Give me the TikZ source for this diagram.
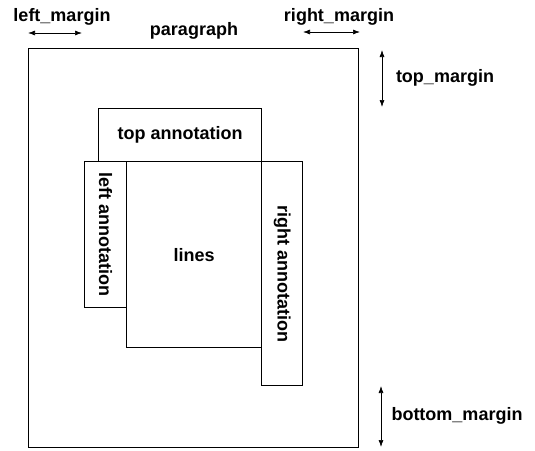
\documentclass[tikz,border=0pt]{standalone}
\usepackage{fontspec}
\setmainfont{Liberation Sans}
\usetikzlibrary{arrows.meta}
\begin{document}
\begin{tikzpicture}[x=1pt,y=-1pt,
  box/.style={draw, line width=1.3pt, inner sep=0pt, anchor=north west},
  lbl/.style={font=\bfseries\fontsize{18}{20}\selectfont, inner sep=0pt},
  dim/.style={line width=0.7pt, {Latex[length=7pt,width=5pt]}-{Latex[length=7pt,width=5pt]}}]
\useasboundingbox (0,0) rectangle (535,450);
% boxes
\node[box, minimum width=330pt, minimum height=399pt] (para) at (28,48) {};
\node[box, minimum width=163pt, minimum height=53pt] (top) at (98,108) {};
\node[box, minimum width=42pt, minimum height=146pt] (left) at (84,161) {};
\node[box, minimum width=135pt, minimum height=186pt] (lines) at (126,161) {};
\node[box, minimum width=41pt, minimum height=224pt] (right) at (261,161) {};
% box labels
\node[lbl] (toplbl) at (top.center) {top annotation};
\node[lbl, rotate=-90] (leftlbl) at (left.center) {left annotation};
\node[lbl] (lineslbl) at (lines.center) {lines};
\node[lbl, rotate=-90] (rightlbl) at (right.center) {right annotation};
% margin labels
\node[lbl] (lmlbl) at (62,17) {left\_margin};
\node[lbl] (paralbl) at (194,31) {paragraph};
\node[lbl] (rmlbl) at (339,17) {right\_margin};
\node[lbl] (tmlbl) at (445,78) {top\_margin};
\node[lbl] (bmlbl) at (457,416) {bottom\_margin};
% dimension arrows
\coordinate (lmA) at (28,33); \coordinate (lmB) at (82,33);
\coordinate (rmA) at (303,32); \coordinate (rmB) at (360,32);
\coordinate (tmA) at (382,50); \coordinate (tmB) at (382,107);
\coordinate (bmA) at (381,386); \coordinate (bmB) at (381,447);
\draw[dim] (lmA) -- (lmB);
\draw[dim] (rmA) -- (rmB);
\draw[dim] (tmA) -- (tmB);
\draw[dim] (bmA) -- (bmB);
\end{tikzpicture}
\end{document}
